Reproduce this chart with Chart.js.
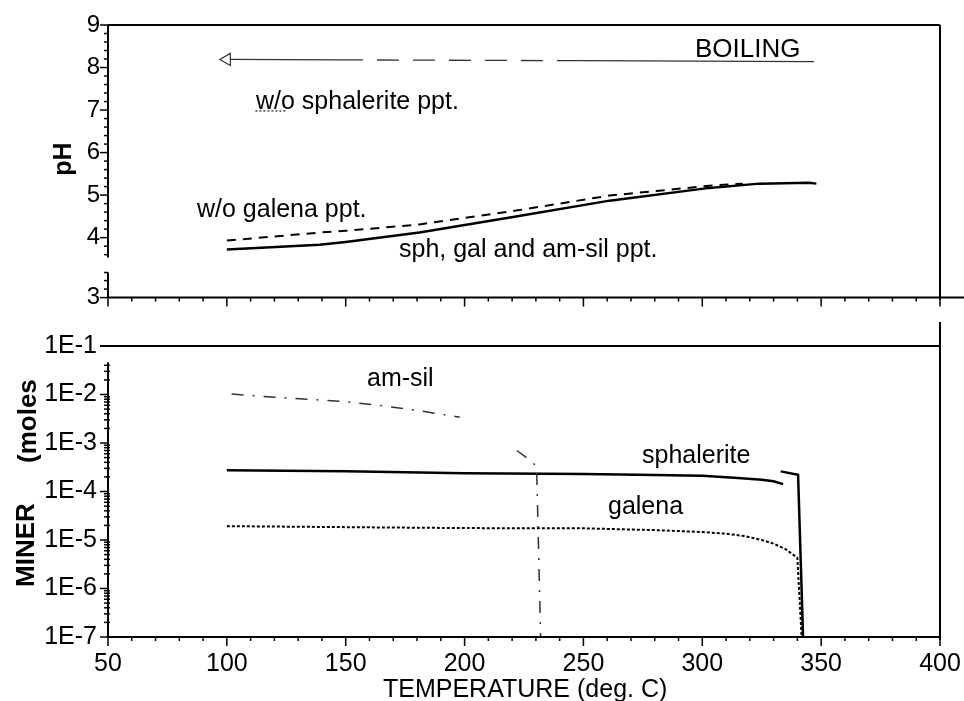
<!DOCTYPE html>
<html>
<head>
<meta charset="utf-8">
<script src="https://cdn.jsdelivr.net/npm/chart.js@4.4.1/dist/chart.umd.min.js"></script>
<style>
  body { margin: 0; background: #fff; }
  #wrap { position: relative; width: 964px; height: 701px; background: #fff; }
  canvas { position: absolute; left: 0; }
  #top { top: 0; }
  #bottom { top: 320px; }
</style>
</head>
<body>
<div id="wrap">
  <canvas id="top" width="964" height="320"></canvas>
  <canvas id="bottom" width="964" height="381"></canvas>
</div>
<script>
// --- données ---
// panneau du haut : pH
const tempBoiling = [100, 148, 248, 347];
const phBoiling = [8.19, 8.18, 8.16, 8.14];

const tempSphKey = [112, 125];          // petit trait de légende sous "w/o"
const phSphKey = [6.98, 6.98];

const tempNoGalena = [100, 139, 150, 181, 221, 261, 303, 317];
const phNoGalena = [3.93, 4.12, 4.16, 4.31, 4.63, 4.99, 5.22, 5.27];

const tempAllPpt = [100, 139, 150, 181, 221, 261, 303, 324, 345, 348];
const phAllPpt = [3.72, 3.83, 3.9, 4.12, 4.49, 4.87, 5.17, 5.27, 5.29, 5.27];

// panneau du bas : minéraux (moles), échelle log
const tempAmSil = [102, 120, 150, 165, 180, 198, 210, 222, 227, 230.3, 232];
const molAmSil = [1.02e-2, 8.8e-3, 7.1e-3, 5.9e-3, 4.7e-3, 3.4e-3, null, 7.0e-4, 4.6e-4, 3.3e-4, 1e-7];

const tempSph = [100, 150, 200, 250, 280, 300, 315, 325, 330, 334, 334, 333, 340.3, 342.4];
const molSph = [2.73e-4, 2.6e-4, 2.38e-4, 2.3e-4, 2.2e-4, 2.1e-4, 1.9e-4, 1.74e-4, 1.62e-4, 1.42e-4, null, 2.6e-4, 2.2e-4, 1e-7];

const tempGal = [100, 150, 200, 250, 280, 300, 310, 318, 325, 330, 335, 340, 341.8];
const molGal = [1.93e-5, 1.84e-5, 1.76e-5, 1.74e-5, 1.6e-5, 1.46e-5, 1.35e-5, 1.2e-5, 1.0e-5, 8.4e-6, 6.5e-6, 4.3e-6, 1e-7];

// axes
const phTicks = [4, 5, 6, 7, 8, 9];
const mineralTicks = [1e-7, 1e-6, 1e-5, 1e-4, 1e-3, 1e-2, 1e-1];
// axe pH coupé : le segment du bas (étiqueté "3") est ramené à cette valeur
const PH_AXIS_MIN = 2.59;
const PH_BREAK_LOW = 3.18;
const PH_BREAK_HIGH = 3.53;

const FONT = '"Liberation Sans", Arial, Helvetica, sans-serif';
Chart.defaults.font.family = FONT;
Chart.defaults.color = '#000';

function pts(xs, ys) {
  return xs.map((x, i) => ({ x: x, y: ys[i] }));
}

function line(ctx, x1, y1, x2, y2) {
  ctx.beginPath();
  ctx.moveTo(x1, y1);
  ctx.lineTo(x2, y2);
  ctx.stroke();
}

function text(ctx, str, x, y, font, rotate) {
  ctx.save();
  ctx.font = font;
  ctx.fillStyle = '#000';
  ctx.textBaseline = 'alphabetic';
  ctx.translate(x, y);
  if (rotate) ctx.rotate(-Math.PI / 2);
  ctx.fillText(str, 0, 0);
  ctx.restore();
}

function xTicks(ctx, xs, a) {
  ctx.lineWidth = 1.5;
  for (let t = 50; t <= 400; t += 10) {
    const px = xs.getPixelForValue(t);
    const len = t % 50 === 0 ? 9 : 4;
    line(ctx, px, a.bottom, px, a.bottom + len);
  }
}

// décor du panneau pH : cadre, axe coupé, graduations, textes
const topDecor = {
  id: 'topDecor',
  afterDraw(chart) {
    const { ctx, chartArea: a, scales: { x, y } } = chart;
    ctx.save();
    ctx.strokeStyle = '#000';
    ctx.lineWidth = 2;
    line(ctx, a.left, a.top, a.right, a.top);
    line(ctx, a.right, a.top, a.right, a.bottom + 2);
    line(ctx, a.left, a.bottom, chart.width, a.bottom);
    line(ctx, a.left, y.getPixelForValue(9), a.left, y.getPixelForValue(PH_BREAK_HIGH));
    line(ctx, a.left, y.getPixelForValue(PH_BREAK_LOW), a.left, a.bottom);

    ctx.lineWidth = 1.5;
    [PH_AXIS_MIN].concat(phTicks).forEach(v => {
      const py = y.getPixelForValue(v);
      line(ctx, a.left - 8, py, a.left, py);
    });
    for (let k = 18; k <= 44; k++) {
      if (k % 5 === 0) continue;
      const py = y.getPixelForValue(k / 5);
      line(ctx, a.left - 4, py, a.left, py);
    }
    [2.79, 2.99, PH_BREAK_LOW].forEach(v => {
      const py = y.getPixelForValue(v);
      line(ctx, a.left - 4, py, a.left, py);
    });
    xTicks(ctx, x, a);
    ctx.restore();

    text(ctx, 'BOILING', 695, 57, '26px ' + FONT);
    text(ctx, 'w/o sphalerite ppt.', 256, 109, '25px ' + FONT);
    text(ctx, 'w/o galena ppt.', 197, 217, '25px ' + FONT);
    text(ctx, 'sph, gal and am-sil ppt.', 399, 257, '25px ' + FONT);
    ctx.save();
    ctx.font = 'bold 25px ' + FONT;
    ctx.textAlign = 'center';
    ctx.translate(71, 159);
    ctx.rotate(-Math.PI / 2);
    ctx.fillText('pH', 0, 0);
    ctx.restore();
  }
};

// décor du panneau minéraux
const bottomDecor = {
  id: 'bottomDecor',
  afterDraw(chart) {
    const { ctx, chartArea: a, scales: { x, y } } = chart;
    ctx.save();
    ctx.strokeStyle = '#000';
    ctx.lineWidth = 2;
    const yTop = y.getPixelForValue(1e-1);
    line(ctx, a.left - 8, yTop, a.right, yTop);
    line(ctx, a.right, 2, a.right, a.bottom + 3);
    line(ctx, a.left, y.getPixelForValue(4.6e-2), a.left, a.bottom);
    line(ctx, a.left, a.bottom, a.right, a.bottom);

    ctx.lineWidth = 1.5;
    mineralTicks.slice(0, 6).forEach(v => {
      const py = y.getPixelForValue(v);
      line(ctx, a.left - 8, py, a.left, py);
    });
    for (let e = -7; e <= -2; e++) {
      for (let m = 2; m <= 9; m++) {
        const v = m * Math.pow(10, e);
        if (v > 4.6e-2) continue;
        const py = y.getPixelForValue(v);
        line(ctx, a.left - 4, py, a.left + 2, py);
      }
    }
    xTicks(ctx, x, a);
    ctx.restore();

    text(ctx, 'am-sil', 367, 66, '25px ' + FONT);
    text(ctx, 'sphalerite', 642, 143, '25px ' + FONT);
    text(ctx, 'galena', 608, 194, '25px ' + FONT);
    text(ctx, 'TEMPERATURE (deg. C)', 383, 377, '25px ' + FONT);
    text(ctx, 'MINER', 34, 267, 'bold 26px ' + FONT, true);
    text(ctx, '(moles', 36, 143, 'bold 26px ' + FONT, true);
  }
};

const xScale = (h, showLabels) => ({
  type: 'linear',
  min: 50,
  max: 400,
  grid: { display: false, drawTicks: false },
  border: { display: false },
  ticks: {
    display: showLabels,
    stepSize: 50,
    font: { size: 25 },
    padding: 12,
    maxRotation: 0
  },
  afterFit: (s) => {
    s.height = h;
    s.paddingLeft = 0;
    s.paddingRight = 0;
  }
});

new Chart(document.getElementById('top'), {
  type: 'line',
  data: {
    datasets: [
      {
        label: 'BOILING',
        data: pts(tempBoiling, phBoiling),
        borderColor: '#333',
        borderWidth: 1.3,
        segment: { borderDash: c => c.p0DataIndex === 1 ? [22, 14] : undefined },
        pointStyle: 'triangle',
        rotation: -90,
        pointRadius: c => c.dataIndex === 0 ? 7 : 0,
        pointBackgroundColor: '#fff',
        pointBorderColor: '#333',
        pointBorderWidth: 1.2
      },
      {
        label: 'w/o sphalerite ppt.',
        data: pts(tempSphKey, phSphKey),
        borderColor: '#444',
        borderWidth: 1.5,
        borderDash: [2, 2],
        pointRadius: 0
      },
      {
        label: 'w/o galena ppt.',
        data: pts(tempNoGalena, phNoGalena),
        borderColor: '#000',
        borderWidth: 2,
        borderDash: [9, 7],
        pointRadius: 0
      },
      {
        label: 'sph, gal and am-sil ppt.',
        data: pts(tempAllPpt, phAllPpt),
        borderColor: '#000',
        borderWidth: 2.5,
        pointRadius: 0
      }
    ]
  },
  options: {
    responsive: false,
    animation: false,
    devicePixelRatio: 1,
    layout: { padding: { left: 0, right: 24, top: 25, bottom: 0 } },
    plugins: { legend: { display: false }, tooltip: { enabled: false } },
    scales: {
      x: xScale(22, false),
      y: {
        type: 'linear',
        min: PH_AXIS_MIN,
        max: 9,
        grid: { display: false, drawTicks: false },
        border: { display: false },
        afterBuildTicks: (s) => {
          s.ticks = [PH_AXIS_MIN].concat(phTicks).map(v => ({ value: v }));
        },
        ticks: {
          font: { size: 24 },
          padding: 8,
          callback: (v) => v === PH_AXIS_MIN ? '3' : String(v)
        },
        afterFit: (s) => { s.width = 108; }
      }
    }
  },
  plugins: [topDecor]
});

new Chart(document.getElementById('bottom'), {
  type: 'line',
  data: {
    datasets: [
      {
        label: 'am-sil',
        data: pts(tempAmSil, molAmSil),
        borderColor: '#333',
        borderWidth: 1.5,
        borderDash: [12, 9, 2, 9],
        pointRadius: 0
      },
      {
        label: 'sphalerite',
        data: pts(tempSph, molSph),
        borderColor: '#000',
        borderWidth: 2.5,
        pointRadius: 0
      },
      {
        label: 'galena',
        data: pts(tempGal, molGal),
        borderColor: '#000',
        borderWidth: 2,
        borderDash: [3, 2],
        pointRadius: 0
      }
    ]
  },
  options: {
    responsive: false,
    animation: false,
    devicePixelRatio: 1,
    spanGaps: false,
    layout: { padding: { left: 0, right: 24, top: 13, bottom: 0 } },
    plugins: { legend: { display: false }, tooltip: { enabled: false } },
    scales: {
      x: xScale(64, true),
      y: {
        type: 'logarithmic',
        min: 1e-7,
        max: 1e-1,
        grid: { display: false, drawTicks: false },
        border: { display: false },
        afterBuildTicks: (s) => {
          s.ticks = mineralTicks.map(v => ({ value: v }));
        },
        ticks: {
          font: { size: 25 },
          padding: 11,
          callback: (v) => '1E' + Math.round(Math.log10(v))
        },
        afterFit: (s) => { s.width = 108; }
      }
    }
  },
  plugins: [bottomDecor]
});
</script>
</body>
</html>
